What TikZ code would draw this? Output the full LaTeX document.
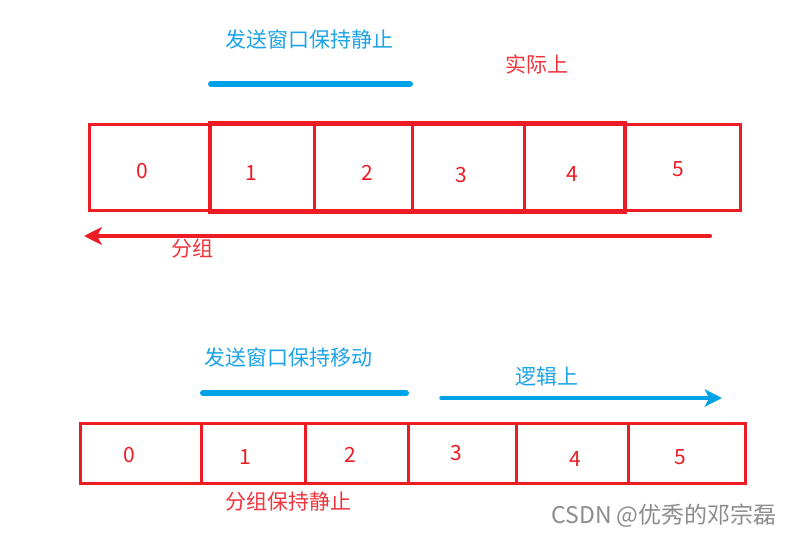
\documentclass[tikz,border=0pt]{standalone}
\usepackage{fontspec}
\setmainfont{Noto Sans CJK SC}
\newfontfamily\cjk{Noto Sans CJK SC}
\usetikzlibrary{arrows.meta}
\definecolor{pred}{HTML}{ED1C24}
\definecolor{pblue}{HTML}{00A2E8}
\definecolor{tblue}{HTML}{1AA3E8}
\definecolor{tred}{HTML}{F0343C}
\begin{document}
\begin{tikzpicture}[x=1pt,y=-1pt,
  cell/.style={draw=pred, line width=3pt, inner sep=0pt},
  win/.style={draw=pred, line width=4pt, inner sep=0pt},
  num/.style={text=pred, font=\cjk\fontsize{21}{21}\selectfont, inner sep=0pt},
  ctext/.style={font=\cjk\fontsize{21}{21}\selectfont, inner sep=0pt},
  bar/.style={draw=pblue, line width=6pt, line cap=round},
]
\useasboundingbox (0,0) rectangle (794,537);
\fill[white] (0,0) rectangle (794,537);
% ---------- top ----------
\node[ctext, text=tblue] (t1) at (309,40) {发送窗口保持静止};
\node[ctext, text=tred] (t2) at (537,64) {实际上};
\coordinate (b1a) at (211,84);
\coordinate (b1b) at (410,84);
\draw[bar] (b1a) -- (b1b);
% cells
\node[cell, minimum width=121pt, minimum height=86pt] (a0) at (149.5,168) {};
\node[cell, minimum width=104pt, minimum height=86pt] (a1) at (262,168) {};
\node[cell, minimum width=98pt, minimum height=86pt] (a2) at (363,168) {};
\node[cell, minimum width=112pt, minimum height=86pt] (a3) at (468,168) {};
\node[cell, minimum width=101pt, minimum height=86pt] (a4) at (574.5,168) {};
\node[cell, minimum width=115pt, minimum height=86pt] (a5) at (682.5,168) {};
\node[win, minimum width=415pt, minimum height=89pt] (aw) at (417.5,168) {};
\node[num] (n0) at (142,171) {0};
\node[num] (n1) at (251,173) {1};
\node[num] (n2) at (367,173) {2};
\node[num] (n3) at (461,175) {3};
\node[num] (n4) at (572,174) {4};
\node[num] (n5) at (678,169) {5};
\coordinate (ra) at (710,236);
\coordinate (rb) at (84,236);
\draw[draw=pred, line width=4pt, line cap=round, -{Stealth[length=18pt,width=18pt,inset=5pt]}] (ra) -- (rb);
\node[ctext, text=tred] (t3) at (192,249) {分组};
% ---------- bottom ----------
\node[ctext, text=tblue] (t4) at (288,358) {发送窗口保持移动};
\node[ctext, text=tblue] (t5) at (547,377) {逻辑上};
\coordinate (b2a) at (203,393);
\coordinate (b2b) at (406,393);
\draw[bar] (b2a) -- (b2b);
\coordinate (ba) at (441,398);
\coordinate (bb) at (722,398);
\draw[draw=pblue, line width=3.5pt, line cap=round, -{Stealth[length=17pt,width=17pt,inset=4pt]}] (ba) -- (bb);
\node[cell, minimum width=121pt, minimum height=60pt] (c0) at (140.5,453) {};
\node[cell, minimum width=104pt, minimum height=60pt] (c1) at (253,453) {};
\node[cell, minimum width=103pt, minimum height=60pt] (c2) at (356.5,453) {};
\node[cell, minimum width=108pt, minimum height=60pt] (c3) at (462,453) {};
\node[cell, minimum width=112pt, minimum height=60pt] (c4) at (572,453) {};
\node[cell, minimum width=117pt, minimum height=60pt] (c5) at (686.5,453) {};
\node[num] (m0) at (129,455) {0};
\node[num] (m1) at (245,457) {1};
\node[num] (m2) at (350,455) {2};
\node[num] (m3) at (456,453) {3};
\node[num] (m4) at (575,459) {4};
\node[num] (m5) at (680,457) {5};
\node[ctext, text=tred] (t6) at (288,502) {分组保持静止};
\node[font=\cjk\fontsize{23}{23}\selectfont, text=black!45, inner sep=0pt] (cs) at (664,516) {CSDN @优秀的邓宗磊};
\end{tikzpicture}
\end{document}
